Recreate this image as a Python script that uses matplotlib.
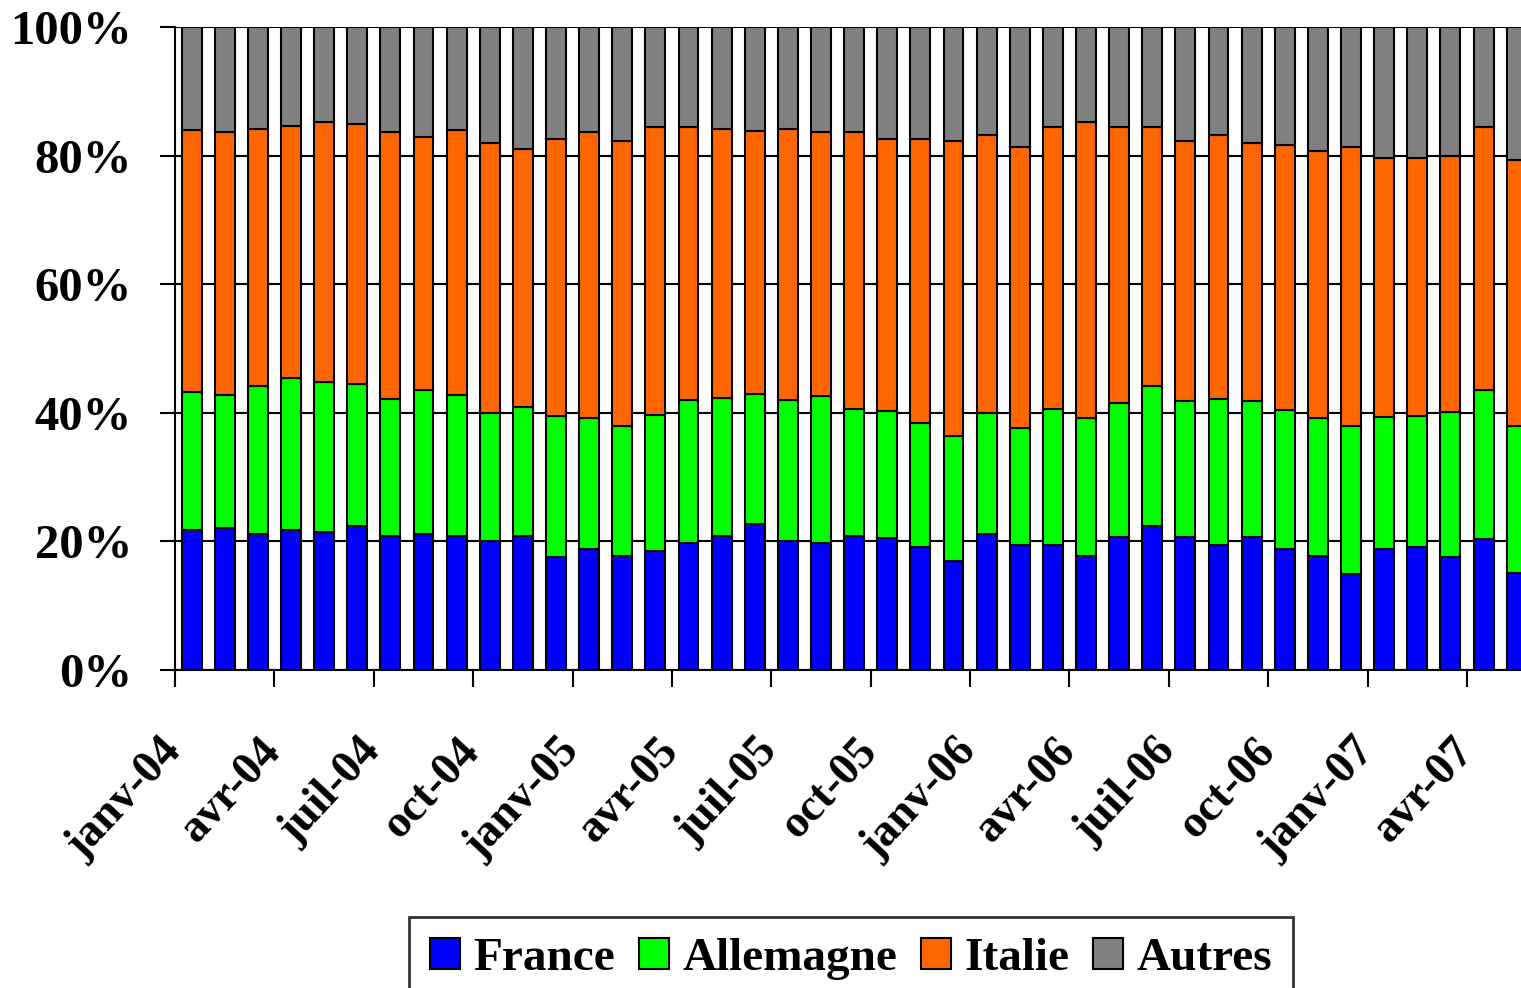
import numpy as np
import matplotlib
matplotlib.use("Agg")
import matplotlib.pyplot as plt

plt.rcParams['font.family'] = ['Liberation Serif', 'DejaVu Serif']
plt.rcParams['font.weight'] = 'bold'

# ----------------------------------------------------
# Data (shares in %)
# ----------------------------------------------------
months = ['janv', 'févr', 'mars', 'avr', 'mai', 'juin',
          'juil', 'août', 'sept', 'oct', 'nov', 'déc']
years = ['04', '05', '06', '07']
categories = [f"{m}-{y}" for y in years for m in months][:41]

france = [21.7, 22.1, 21.1, 21.7, 21.4, 22.4, 20.8, 21.1, 20.8, 20.1,
          20.8, 17.5, 18.8, 17.8, 18.5, 19.8, 20.8, 22.7, 20.1, 19.8,
          20.8, 20.5, 19.2, 16.9, 21.1, 19.5, 19.5, 17.8, 20.7, 22.4,
          20.7, 19.4, 20.7, 18.8, 17.8, 14.9, 18.8, 19.1, 17.5, 20.4,
          15.1]
allemagne = [21.5, 20.7, 23.0, 23.7, 23.4, 22.1, 21.4, 22.4, 22.0, 19.8,
             20.1, 22.0, 20.4, 20.2, 21.1, 22.2, 21.5, 20.3, 21.9, 22.8,
             19.8, 19.8, 19.2, 19.5, 18.9, 18.2, 21.1, 21.4, 20.9, 21.7,
             21.2, 22.8, 21.2, 21.7, 21.4, 23.1, 20.5, 20.4, 22.7, 23.1,
             22.9]
italie = [40.8, 40.8, 40.1, 39.2, 40.4, 40.4, 41.4, 39.4, 41.2, 42.1,
          40.1, 43.1, 44.4, 44.3, 44.9, 42.5, 41.9, 40.9, 42.2, 41.0,
          43.0, 42.3, 44.2, 45.9, 43.2, 43.6, 43.9, 46.0, 42.9, 40.4,
          40.4, 41.0, 40.1, 41.1, 41.5, 43.3, 40.4, 40.2, 39.7, 41.0,
          41.3]
autres = [16.0, 16.4, 15.8, 15.4, 14.8, 15.1, 16.4, 17.1, 16.0, 18.0,
          19.0, 17.4, 16.4, 17.7, 15.5, 15.5, 15.8, 16.1, 15.8, 16.4,
          16.4, 17.4, 17.4, 17.7, 16.8, 18.7, 15.5, 14.8, 15.5, 15.5,
          17.7, 16.8, 18.0, 18.4, 19.3, 18.7, 20.3, 20.3, 20.1, 15.5,
          20.7]

series = [("France", france, "#0000FF"),
          ("Allemagne", allemagne, "#00FF00"),
          ("Italie", italie, "#FF6600"),
          ("Autres", autres, "#808080")]

# ----------------------------------------------------
# Stacked 100% bars
# ----------------------------------------------------
W, H = 1521, 988
fig = plt.figure(figsize=(W / 100, H / 100), dpi=100)
ax = fig.add_axes([175 / W, 1 - 670 / H, (W - 175) / W, (670 - 27) / H])

x = np.arange(len(categories))
bottom = np.zeros(len(categories))
for name, vals, color in series:
    ax.bar(x, vals, 0.6, bottom=bottom, color=color, edgecolor='black',
           linewidth=1.5, label=name, zorder=3)
    bottom += np.array(vals)

ax.set_ylim(0, 100)
ax.set_xlim(-0.5, 40.13)
ax.set_yticks(range(0, 101, 20))
ax.set_yticklabels([f"{v}%" for v in range(0, 101, 20)], fontsize=35,
                   fontweight='bold')
ax.yaxis.grid(True, color='black', linewidth=1.5)
ax.set_axisbelow(True)

tick_idx = list(range(0, len(categories), 3))
ax.set_xticks(np.array(tick_idx) - 0.5)
ax.set_xticklabels([categories[i] for i in tick_idx], rotation=47,
                   ha='right', va='center', rotation_mode='anchor',
                   fontsize=33, fontweight='bold')
ax.tick_params(axis='x', length=12, width=1.5, pad=42)
ax.tick_params(axis='y', length=11, width=1.5, pad=20)

for s in ['top', 'right']:
    ax.spines[s].set_visible(False)
for s in ['left', 'bottom']:
    ax.spines[s].set_linewidth(1.5)

leg = fig.legend(loc='upper center', bbox_to_anchor=(851 / W, 1 - 917 / H),
                 ncol=4, frameon=True, fancybox=False, borderaxespad=0,
                 edgecolor='black', handlelength=0.64, handleheight=0.64,
                 handletextpad=0.28, columnspacing=0.5, borderpad=0.45,
                 prop={'weight': 'bold', 'size': 34})
leg.get_frame().set_linewidth(2)

fig.savefig("out.png", dpi=100)
